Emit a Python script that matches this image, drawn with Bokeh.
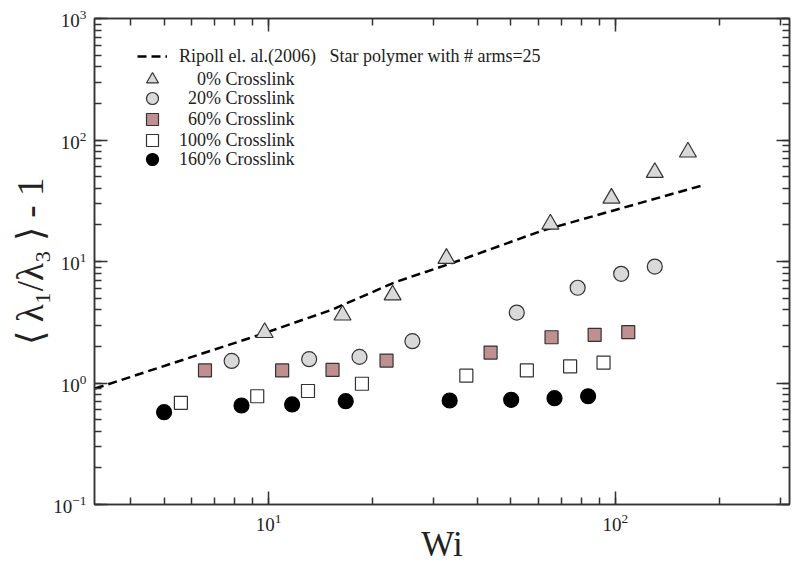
from bokeh.plotting import figure
from bokeh.models import (LogAxis, Legend, LegendItem, Range1d, LogTicker,
                          CustomJSTickFormatter)
from bokeh.embed import file_html
from bokeh.resources import INLINE

# ---- data ----
wi_ripoll = [3.16, 9.3, 15.2, 23.2, 34.4, 61.7, 178.0]
val_ripoll = [0.90, 2.46, 4.0, 6.76, 9.87, 18.0, 42.2]

wi_0 = [9.75, 16.35, 22.8, 32.6, 65.0, 97.5, 130.0, 162.0]
val_0 = [2.6, 3.62, 5.3, 10.6, 20.3, 33.2, 54.0, 79.5]

wi_20 = [7.83, 13.1, 18.3, 26.0, 52.0, 77.9, 104.0, 130.0]
val_20 = [1.52, 1.57, 1.64, 2.21, 3.80, 6.08, 7.92, 9.09]

wi_60 = [6.56, 10.95, 15.3, 21.9, 43.7, 65.5, 87.2, 109.0]
val_60 = [1.27, 1.27, 1.28, 1.53, 1.78, 2.38, 2.49, 2.62]

wi_100 = [5.59, 9.28, 13.0, 18.6, 37.2, 55.6, 74.1, 92.5]
val_100 = [0.687, 0.778, 0.859, 0.986, 1.15, 1.27, 1.37, 1.47]

wi_160 = [5.0, 8.36, 11.7, 16.7, 33.3, 50.1, 66.8, 83.5]
val_160 = [0.575, 0.653, 0.666, 0.708, 0.718, 0.727, 0.750, 0.778]

labels = [
    "Ripoll el. al.(2006)\u00a0\u00a0 Star polymer with # arms=25",
    "\u2007\u20070% Crosslink",
    "\u200720% Crosslink",
    "\u200760% Crosslink",
    "100% Crosslink",
    "160% Crosslink",
]
x_title = "Wi"
y_title = "\u27e8 \u03bb\u2081/\u03bb\u2083 \u27e9 - 1"

FONT = "Liberation Serif"
DARK = "#333333"
TXT = "#222222"

p = figure(width=800, height=575, x_axis_type="log", y_axis_type="log",
           x_range=Range1d(3.15, 318), y_range=Range1d(0.1, 1000),
           output_backend="svg", toolbar_location=None,
           min_border_left=94, min_border_right=11, min_border_top=18,
           min_border_bottom=71)
p.grid.visible = False
p.outline_line_color = DARK
p.outline_line_width = 1.5
p.background_fill_color = "white"
p.border_fill_color = "white"

p.xaxis.ticker = LogTicker(num_minor_ticks=10)
p.yaxis.ticker = LogTicker(num_minor_ticks=10)

for ax in (p.xaxis[0], p.yaxis[0]):
    ax.major_label_text_font = FONT
    ax.major_label_text_font_size = "19px"
    ax.major_label_text_color = TXT
    ax.axis_label_text_font = FONT
    ax.axis_label_text_font_style = "normal"
    ax.axis_label_text_color = TXT

p.xaxis.axis_label = x_title
p.xaxis.axis_label_text_font_size = "35px"
p.xaxis.major_label_standoff = 9
p.xaxis.axis_label_standoff = -9

p.yaxis.axis_label = y_title
p.yaxis.axis_label_text_font_size = "37px"
p.yaxis.major_label_standoff = 8
p.yaxis.axis_label_standoff = -1

p.add_layout(LogAxis(ticker=LogTicker(num_minor_ticks=10),
                     formatter=CustomJSTickFormatter(code="return ''"),
                     major_label_standoff=0), "right")
p.add_layout(LogAxis(ticker=LogTicker(num_minor_ticks=10),
                     formatter=CustomJSTickFormatter(code="return ''"),
                     major_label_standoff=0), "above")

for ax in p.axis:
    ax.axis_line_color = DARK
    ax.axis_line_width = 1.5
    ax.major_tick_line_color = DARK
    ax.minor_tick_line_color = DARK
    ax.major_tick_line_width = 1.5
    ax.minor_tick_line_width = 1.5
    ax.major_tick_in = 13
    ax.major_tick_out = 0
    ax.minor_tick_in = 7
    ax.minor_tick_out = 0

r_line = p.line(wi_ripoll, val_ripoll, line_dash="9 5", line_width=2.5,
                line_color="black")
r0 = p.scatter(wi_0, val_0, marker="triangle", size=17, fill_color="#d9d9d9",
               line_color=DARK, line_width=1.2)
r20 = p.scatter(wi_20, val_20, marker="circle", size=15, fill_color="#d9d9d9",
                line_color=DARK, line_width=1.2)
r60 = p.scatter(wi_60, val_60, marker="square", size=13, fill_color="#c08f8f",
                line_color=DARK, line_width=1.2)
r100 = p.scatter(wi_100, val_100, marker="square", size=13, fill_color="white",
                 line_color=DARK, line_width=1.2)
r160 = p.scatter(wi_160, val_160, marker="circle", size=15, fill_color="black",
                 line_color="black", line_width=1.2)

renderers = [r_line, r0, r20, r60, r100, r160]
items = [LegendItem(label=lab, renderers=[r]) for lab, r in zip(labels, renderers)]

common = dict(padding=0, glyph_width=30, glyph_height=30, label_standoff=12,
              border_line_alpha=0, background_fill_alpha=0,
              label_text_font=FONT, label_text_font_size="18px",
              label_text_color=TXT)
legend_a = Legend(items=items[0::2], location=(43, 349), spacing=12, **common)
legend_b = Legend(items=items[1::2], location=(43, 330), spacing=10, **common)
p.add_layout(legend_a)
p.add_layout(legend_b)

open("out.html", "w").write(file_html(p, INLINE))
